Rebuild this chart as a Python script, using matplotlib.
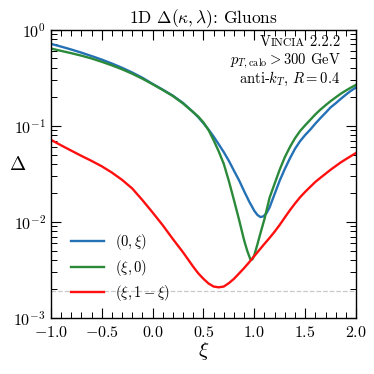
import matplotlib
matplotlib.use("Agg")
import matplotlib.pyplot as plt
from matplotlib.ticker import MultipleLocator, LogLocator, NullFormatter

plt.rcParams["font.family"] = "serif"
plt.rcParams["font.serif"] = ["cmr10"]
plt.rcParams["mathtext.fontset"] = "cm"
plt.rcParams["axes.formatter.use_mathtext"] = True
plt.rcParams["axes.unicode_minus"] = True

# (0, xi)
xi_blue = [-1.0, -0.9, -0.8, -0.7, -0.6, -0.5, -0.4, -0.3, -0.2, -0.1, 0.0,
           0.1, 0.2, 0.3, 0.4, 0.45, 0.5, 0.55, 0.6, 0.65, 0.7, 0.75, 0.8,
           0.85, 0.9, 0.95, 1.0, 1.03, 1.06, 1.09, 1.12, 1.15, 1.2, 1.25,
           1.3, 1.35, 1.4, 1.45, 1.5, 1.55, 1.6, 1.65, 1.7, 1.75, 1.8, 1.85,
           1.9, 1.95, 2.0]
d_blue = [0.71, 0.665, 0.62, 0.575, 0.53, 0.487, 0.443, 0.400, 0.357, 0.315,
          0.272, 0.237, 0.205, 0.172, 0.138, 0.122, 0.106, 0.091, 0.077, 0.064,
          0.053, 0.043, 0.034, 0.027, 0.0208, 0.0162, 0.0130, 0.0118, 0.0112,
          0.0114, 0.0123, 0.0141, 0.0195, 0.0269, 0.0355, 0.0457, 0.0575,
          0.069, 0.080, 0.091, 0.105, 0.120, 0.136, 0.155, 0.171, 0.190,
          0.210, 0.231, 0.25]

# (xi, 0)
xi_green = [-1.0, -0.9, -0.8, -0.7, -0.6, -0.5, -0.4, -0.3, -0.2, -0.1, 0.0,
            0.1, 0.2, 0.3, 0.4, 0.45, 0.5, 0.55, 0.6, 0.65, 0.7, 0.75, 0.8,
            0.85, 0.9, 0.93, 0.96, 0.98, 1.0, 1.03, 1.06, 1.1, 1.15, 1.2,
            1.25, 1.3, 1.35, 1.4, 1.45, 1.5, 1.55, 1.6, 1.65, 1.7, 1.75, 1.8,
            1.85, 1.9, 1.95, 2.0]
d_green = [0.635, 0.60, 0.568, 0.535, 0.50, 0.462, 0.424, 0.386, 0.347, 0.308,
           0.27, 0.235, 0.203, 0.170, 0.138, 0.124, 0.108, 0.090, 0.0705,
           0.054, 0.040, 0.0265, 0.0168, 0.0105, 0.0064, 0.0050, 0.0041,
           0.00405, 0.0045, 0.0058, 0.0076, 0.0107, 0.0178, 0.025, 0.035,
           0.047, 0.060, 0.074, 0.088, 0.101, 0.115, 0.131, 0.147, 0.163,
           0.180, 0.197, 0.215, 0.232, 0.249, 0.266]

# (xi, 1 - xi)
xi_red = [-1.0, -0.9, -0.8, -0.7, -0.6, -0.5, -0.4, -0.3, -0.2, -0.1, 0.0,
          0.1, 0.2, 0.3, 0.4, 0.45, 0.5, 0.55, 0.6, 0.65, 0.7, 0.75, 0.8,
          0.85, 0.9, 0.95, 1.0, 1.05, 1.1, 1.15, 1.2, 1.25, 1.3, 1.35, 1.4,
          1.45, 1.5, 1.55, 1.6, 1.65, 1.7, 1.75, 1.8, 1.85, 1.9, 1.95, 2.0]
d_red = [0.0713, 0.0625, 0.055, 0.0485, 0.043, 0.0378, 0.0325, 0.0273,
         0.0222, 0.0168, 0.0125, 0.0092, 0.0066, 0.0048, 0.0034, 0.0029,
         0.00255, 0.00228, 0.00212, 0.00208, 0.00212, 0.0023, 0.00255,
         0.0029, 0.0033, 0.0038, 0.0044, 0.0051, 0.0059, 0.0068, 0.0079,
         0.0093, 0.0111, 0.0132, 0.0155, 0.018, 0.0205, 0.0231, 0.026,
         0.0287, 0.0316, 0.0348, 0.038, 0.0415, 0.0448, 0.0483, 0.052]

floor = 1.9e-3

fig = plt.figure(figsize=(3.74, 3.74), dpi=100)
ax = fig.add_axes([0.136, 0.150, 0.816, 0.771])

ax.axhline(floor, color="#c8c8c8", ls="--", lw=0.9, zorder=1)
ax.semilogy(xi_blue, d_blue, color="#2471b5", lw=1.7, label=r"$(0,\xi)$")
ax.semilogy(xi_green, d_green, color="#2a8a3a", lw=1.7, label=r"$(\xi,0)$")
ax.semilogy(xi_red, d_red, color="#ff1010", lw=1.7, label=r"$(\xi,1-\xi)$")

ax.set_xlim(-1, 2)
ax.set_ylim(1e-3, 1)
ax.xaxis.set_major_locator(MultipleLocator(0.5))
ax.xaxis.set_minor_locator(MultipleLocator(0.1))
ax.yaxis.set_major_locator(LogLocator(base=10, numticks=10))
ax.yaxis.set_minor_locator(LogLocator(base=10, subs=range(2, 10), numticks=20))
ax.yaxis.set_minor_formatter(NullFormatter())
ax.tick_params(which="both", direction="in", top=True, right=True, labelsize=11.5)
ax.tick_params(axis="x", pad=5)
ax.tick_params(which="major", length=7.5, width=0.8)
ax.tick_params(which="minor", length=4, width=0.7)
for s in ax.spines.values():
    s.set_linewidth(1.0)

ax.set_xlabel(r"$\xi$", fontsize=15, labelpad=0)
ax.set_ylabel(r"$\Delta$", fontsize=14, rotation=0)
ax.yaxis.set_label_coords(-0.11, 0.5)
ax.set_title(r"1D $\Delta(\kappa,\lambda)$: Gluons", fontsize=12.5, pad=3)

# Vincia in small caps, built from pieces on one baseline
tx = 0.949
t3 = ax.text(tx, 0.942, " 2.2.2", transform=ax.transAxes, ha="right", va="baseline", fontsize=10.5)
t2 = ax.annotate("INCIA", xy=(0, 0.942), xycoords=(t3, ax.transAxes),
                 ha="right", va="baseline", fontsize=8.4)
ax.annotate("V", xy=(0, 0.942), xycoords=(t2, ax.transAxes),
            ha="right", va="baseline", fontsize=10.5)
ax.text(tx, 0.881, r"$p_{T,\mathrm{calo}} > 300$ GeV", transform=ax.transAxes,
        ha="right", va="baseline", fontsize=10.5)
ax.text(tx, 0.815, r"anti-$k_T$, $R = 0.4$", transform=ax.transAxes,
        ha="right", va="baseline", fontsize=10.5)

ax.legend(loc="lower left", bbox_to_anchor=(0.024, 0.005), frameon=False, fontsize=10.5,
          handlelength=2.25, handletextpad=0.75, labelspacing=0.38)

fig.savefig("out.png", dpi=100)
